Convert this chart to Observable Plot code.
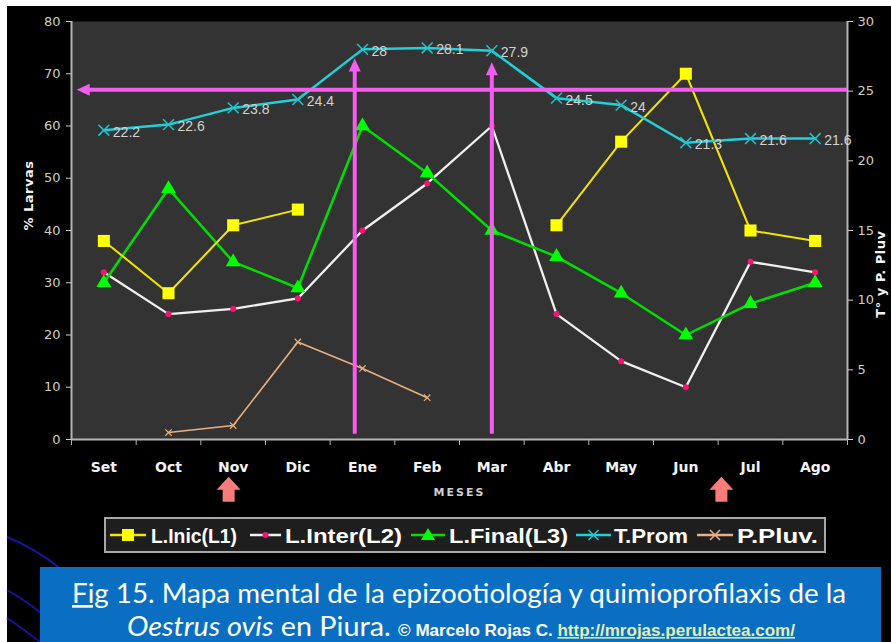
<!DOCTYPE html>
<html>
<head>
<meta charset="utf-8">
<script src="https://cdn.jsdelivr.net/npm/d3@7"></script>
<script src="https://cdn.jsdelivr.net/npm/@observablehq/plot@0.6"></script>
<style>
  html, body { margin: 0; padding: 0; background: #fff; width: 891px; height: 642px; overflow: hidden; }
  #page { position: absolute; left: 7px; top: 6px; width: 884px; height: 636px; background: #000; overflow: hidden; }
  #overlay { position: absolute; left: 0; top: 0; width: 891px; height: 642px; pointer-events: none; }
</style>
</head>
<body>
<div id="page"></div>
<svg id="overlay" width="891" height="642"></svg>
<script>
// ---------------- data ----------------
const months = ["Set","Oct","Nov","Dic","Ene","Feb","Mar","Abr","May","Jun","Jul","Ago"];
const lInic  = [38, 28, 41, 44, null, null, null, 41, 57, 70, 40, 38];   // % larvas (left axis)
const lInter = [32, 24, 25, 27, 40, 49, 60, 24, 15, 10, 34, 32];
const lFinal = [30, 48, 34, 29, 60, 51, 40, 35, 28, 20, 26, 30];
const tProm  = [22.2, 22.6, 23.8, 24.4, 28, 28.1, 27.9, 24.5, 24, 21.3, 21.6, 21.6]; // right axis
const pPluv  = [null, 0.5, 1.0, 7.0, 5.1, 3.0, null, null, null, null, null, null]; // right axis
const leftTicks  = [0, 10, 20, 30, 40, 50, 60, 70, 80];
const rightTicks = [0, 5, 10, 15, 20, 25, 30];
// annotations (month index units / left-axis units)
const vArrowX   = [3.88, 6.0];
const vArrowTop = [72.9, 72.2];
const vArrowBottom = 1.0;
const hArrowRight = 25.1;      // right-axis value of the horizontal magenta arrow
const hArrowLeftX = -0.42;
const upArrowX = [1.93, 9.55];  // salmon arrows under the axis
const upArrowY = -9.6;

const seriesNames = ["L.Inic(L1)", "L.Inter(L2)", "L.Final(L3)", "T.Prom", "P.Pluv."];

// right axis -> left axis units
const R = v => v == null ? null : v * 80 / 30;

const rows = months.map((m, i) => ({
  i, m,
  l1: lInic[i], l2: lInter[i], l3: lFinal[i],
  t: R(tProm[i]), tLabel: String(tProm[i]),
  p: R(pPluv[i])
}));

const MAG = "#f55cf0";
const headUp   = {draw(c){ c.moveTo(0,0); c.lineTo(6,13); c.lineTo(-6,13); c.closePath(); }};
const headLeft = {draw(c){ c.moveTo(0,0); c.lineTo(13,-6); c.lineTo(13,6); c.closePath(); }};
const blockUp  = {draw(c){ c.moveTo(0,-13); c.lineTo(12,0); c.lineTo(6,0); c.lineTo(6,12); c.lineTo(-6,12); c.lineTo(-6,0); c.lineTo(-12,0); c.closePath(); }};

const vArrows = vArrowX.map((x, k) => ({x, top: vArrowTop[k], bottom: vArrowBottom}));
const hArrow = [{x1: hArrowLeftX, x2: 11.5, y: R(hArrowRight)}];
const upArrows = upArrowX.map(x => ({x, y: upArrowY}));

const chart = Plot.plot({
  width: 884, height: 505,
  marginLeft: 64, marginRight: 44, marginTop: 15, marginBottom: 72,
  style: {background: "#000", fontFamily: "DejaVu Sans, sans-serif", overflow: "visible"},
  x: {type: "linear", domain: [-0.5, 11.5], axis: null},
  y: {domain: [0, 80], axis: null},
  marks: [
    Plot.frame({fill: "#333333", stroke: null}),
    // axes lines
    Plot.ruleX([-0.5, 11.5], {stroke: "#b4b4b4", strokeWidth: 2}),
    Plot.ruleY([0], {stroke: "#b4b4b4", strokeWidth: 2}),
    Plot.axisY({anchor: "left", ticks: leftTicks, tickSize: 5, tickPadding: 6, color: "#cfcfc4", fontSize: 13, label: null}),
    Plot.axisY({anchor: "right", ticks: rightTicks.map(R), tickFormat: d => String(Math.round(d * 30 / 80)), tickSize: 5, tickPadding: 5, color: "#cfcfc4", fontSize: 13, label: null}),
    Plot.axisX({ticks: d3.range(-0.5, 12, 1), tickSize: 6, tickFormat: () => "", color: "#b4b4b4", label: null}),
    Plot.axisX({ticks: d3.range(12), tickSize: 0, tickPadding: 23, tickFormat: i => months[i], fill: "#f2f2f2", fontSize: 14, fontWeight: "bold", label: null}),
    Plot.text(["MESES"], {frameAnchor: "bottom", dy: 56, fill: "#cfcfcf", fontSize: 11, fontWeight: "bold"}),
    Plot.text(["% Larvas"], {frameAnchor: "left", dx: -43, rotate: -90, fill: "#f2f2f2", fontSize: 13, fontWeight: "bold"}),
    Plot.text(["T° y P. Pluv"], {frameAnchor: "right", dx: 33, rotate: -90, fill: "#f2f2f2", fontSize: 13, fontWeight: "bold"}),

    // P.Pluv
    Plot.line(rows, {x: "i", y: "p", stroke: "#e8b080", strokeWidth: 1.6}),
    Plot.dot(rows, {x: "i", y: "p", symbol: "times", r: 3, stroke: "#e8b080", strokeWidth: 1.2}),
    // L.Inter
    Plot.line(rows, {x: "i", y: "l2", stroke: "#f0f0f0", strokeWidth: 2.3}),
    Plot.dot(rows, {x: "i", y: "l2", r: 3, fill: "#ff1070", stroke: null}),
    // L.Final
    Plot.line(rows, {x: "i", y: "l3", stroke: "#00e000", strokeWidth: 2.5}),
    Plot.dot(rows, {x: "i", y: "l3", symbol: "triangle", r: 5.5, fill: "#00ff00", stroke: null}),
    // L.Inic
    Plot.line(rows, {x: "i", y: "l1", stroke: "#f2e600", strokeWidth: 2}),
    Plot.dot(rows, {x: "i", y: "l1", symbol: "square", r: 6.8, fill: "#ffff00", stroke: null}),
    // T.Prom
    Plot.line(rows, {x: "i", y: "t", stroke: "#22d0d8", strokeWidth: 2.5}),
    Plot.dot(rows, {x: "i", y: "t", symbol: "times", r: 5, stroke: "#20c4cc", strokeWidth: 1.5}),
    Plot.text(rows, {x: "i", y: "t", text: "tLabel", dx: 9, dy: 2, textAnchor: "start", fill: "#d2d2d2", fontSize: 14, fontFamily: "Liberation Sans, Arial, sans-serif"}),

    // magenta annotations
    Plot.ruleY(hArrow, {y: "y", x1: d => d.x1 + 0.15, x2: "x2", stroke: MAG, strokeWidth: 4}),
    Plot.dot(hArrow, {x: "x1", y: "y", symbol: headLeft, fill: MAG, stroke: null}),
    Plot.ruleX(vArrows, {x: "x", y1: "bottom", y2: d => d.top - 2, stroke: MAG, strokeWidth: 4}),
    Plot.dot(vArrows, {x: "x", y: "top", symbol: headUp, fill: MAG, stroke: null}),
    // salmon block arrows under axis
    Plot.dot(upArrows, {x: "x", y: "y", symbol: blockUp, fill: "#f77c7a", stroke: null})
  ]
});
document.getElementById("page").appendChild(chart);
d3.select(chart).selectAll("text").filter(function(){ return this.textContent === "MESES"; }).attr("letter-spacing", "2px");
d3.select(chart).selectAll("text").filter(function(){ return this.textContent === "% Larvas" || this.textContent === "T° y P. Pluv"; }).attr("letter-spacing", "0.5px");

// ---------------- overlay: decorations, legend, caption ----------------
const ov = d3.select("#overlay");
// decorative arcs bottom-left
const arcs = ["M7,537 Q35,548 62,570", "M7,590 Q25,600 42,614", "M7,618 Q22,628 40,642"];
ov.selectAll("path.arc").data(arcs).join("path").attr("class", "arc").attr("d", d => d)
  .attr("fill", "none").attr("stroke", "#1515a0").attr("stroke-width", 2);

// legend box
ov.append("rect").attr("x", 105).attr("y", 518).attr("width", 720).attr("height", 34)
  .attr("fill", "#1e1e1e").attr("stroke", "#a8a8a8").attr("stroke-width", 2);
const legendItems = [
  {name: seriesNames[0], color: "#f2e600", mark: "square", mcolor: "#ffff00", sx: 110, sw: 36, tx: 151, tw: 86},
  {name: seriesNames[1], color: "#f0f0f0", mark: "dot", mcolor: "#ff1070", sx: 250, sw: 31, tx: 285, tw: 117},
  {name: seriesNames[2], color: "#00e000", mark: "triangle", mcolor: "#00ff00", sx: 411, sw: 34, tx: 449, tw: 119},
  {name: seriesNames[3], color: "#22d0d8", mark: "times", mcolor: "#20c4cc", sx: 576, sw: 35, tx: 614, tw: 74},
  {name: seriesNames[4], color: "#e8b080", mark: "times", mcolor: "#e8b080", sx: 697, sw: 36, tx: 737, tw: 81}
];
const ly = 535;
legendItems.forEach(it => {
  ov.append("line").attr("x1", it.sx).attr("x2", it.sx + it.sw).attr("y1", ly).attr("y2", ly)
    .attr("stroke", it.color).attr("stroke-width", 2.5);
  const cx = it.sx + it.sw / 2;
  if (it.mark === "square") ov.append("rect").attr("x", cx - 6).attr("y", ly - 6).attr("width", 12).attr("height", 12).attr("fill", it.mcolor);
  if (it.mark === "dot") ov.append("circle").attr("cx", cx).attr("cy", ly).attr("r", 3).attr("fill", it.mcolor);
  if (it.mark === "triangle") ov.append("path").attr("d", `M${cx},${ly-7}L${cx+7},${ly+5}L${cx-7},${ly+5}Z`).attr("fill", it.mcolor);
  if (it.mark === "times") ov.append("path").attr("d", `M${cx-5},${ly-5}L${cx+5},${ly+5}M${cx-5},${ly+5}L${cx+5},${ly-5}`).attr("stroke", it.mcolor).attr("stroke-width", 1.5);
  ov.append("text").attr("x", it.tx).attr("y", ly + 7.5).text(it.name)
    .attr("fill", "#ffffff").attr("font-family", "Liberation Sans Narrow, Arial Narrow, Liberation Sans, sans-serif")
    .attr("font-weight", "bold").attr("font-size", 21)
    .attr("textLength", it.tw).attr("lengthAdjust", "spacingAndGlyphs");
});

// caption
ov.append("rect").attr("x", 40).attr("y", 567).attr("width", 841).attr("height", 80).attr("fill", "#0a6fc2");
const cap1 = ov.append("text").attr("x", 72).attr("y", 603)
  .attr("fill", "#ffffff").attr("font-family", "Lato, Open Sans, sans-serif").attr("font-size", 27)
  .attr("textLength", 774).attr("lengthAdjust", "spacingAndGlyphs");
cap1.append("tspan").text("Fig").attr("text-decoration", "underline wavy #e03030");
cap1.append("tspan").text(" 15. Mapa mental de la epizootiología y quimioprofilaxis de la");

const cap2 = ov.append("text").attr("x", 127).attr("y", 636)
  .attr("fill", "#ffffff").attr("font-family", "Lato, Open Sans, sans-serif").attr("font-size", 27)
  .attr("textLength", 668).attr("lengthAdjust", "spacingAndGlyphs");
cap2.append("tspan").text("Oestrus ovis").attr("font-style", "italic");
cap2.append("tspan").text(" en Piura. ");
cap2.append("tspan").text("© Marcelo Rojas C. ").attr("font-size", 16).attr("font-weight", "bold")
  .attr("font-family", "Liberation Sans Narrow, Arial Narrow, sans-serif");
cap2.append("tspan").text("http://mrojas.perulactea.com/").attr("font-size", 16).attr("font-weight", "bold")
  .attr("font-family", "Liberation Sans Narrow, Arial Narrow, sans-serif").attr("fill", "#e4eeb0")
  .attr("text-decoration", "underline");
</script>
</body>
</html>
